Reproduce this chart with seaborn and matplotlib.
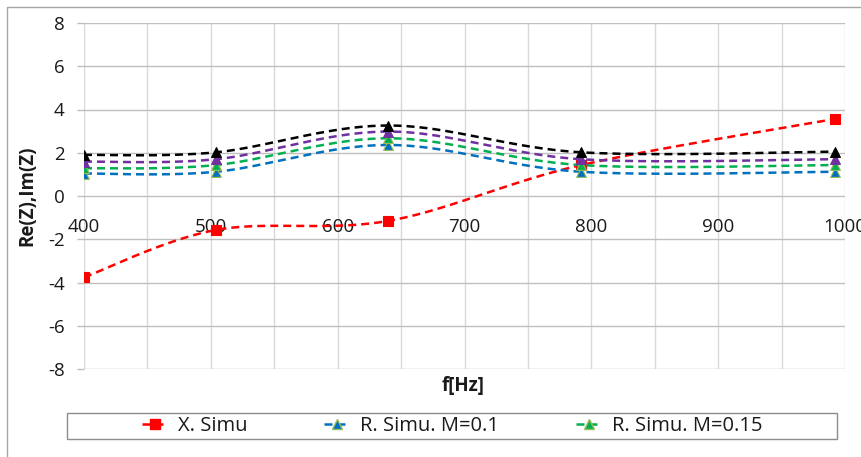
import numpy as np
import pandas as pd
import matplotlib
matplotlib.use("Agg")
import matplotlib.pyplot as plt
from matplotlib.lines import Line2D
from matplotlib.patches import Rectangle
import seaborn as sns

# ---- data ----
freq = [400, 504, 640, 792, 992]
x_simu = [-3.76, -1.57, -1.15, 1.43, 3.56]
r_m010 = [1.04, 1.12, 2.36, 1.12, 1.12]
r_m015 = [1.28, 1.43, 2.67, 1.43, 1.43]
r_m020 = [1.59, 1.70, 2.98, 1.70, 1.70]
r_m025 = [1.90, 2.02, 3.26, 2.02, 2.05]
series_names = ["X. Simu", "R. Simu. M=0.1", "R. Simu. M=0.15", "R. Simu. M=0.2", "R. Simu. M=0.25"]
x_ticks = [400, 500, 600, 700, 800, 900, 1000]
y_ticks = [-8, -6, -4, -2, 0, 2, 4, 6, 8]

series_values = [x_simu, r_m010, r_m015, r_m020, r_m025]
colors = ["#FF0000", "#0070C0", "#00B050", "#7030A0", "#000000"]
markers = ["s", "^", "^", "^", "^"]
edgecols = ["#FF0000", "#9BBB59", "#9BBB59", "#7030A0", "#000000"]


def excel_smooth(xs, ys, n=40):
    """Bezier smoothing similar to Excel's 'smoothed line'."""
    p = np.column_stack([xs, ys]).astype(float)
    m = len(p)
    out = []
    t = np.linspace(0, 1, n)[:, None]
    for i in range(m - 1):
        p0, p3 = p[i], p[i + 1]
        prev = p[i - 1] if i > 0 else p[i]
        nxt = p[i + 2] if i + 2 < m else p[i + 1]
        c1 = p0 + (p3 - prev) / 6.0
        c2 = p3 - (nxt - p0) / 6.0
        seg = ((1 - t) ** 3) * p0 + 3 * ((1 - t) ** 2) * t * c1 + 3 * (1 - t) * t ** 2 * c2 + t ** 3 * p3
        out.append(seg if i == 0 else seg[1:])
    arr = np.vstack(out)
    return arr[:, 0], arr[:, 1]


sns.set_style("white")
plt.rcParams["font.family"] = ["Open Sans", "DejaVu Sans"]

W, H = 862, 457
fig = plt.figure(figsize=(W / 100, H / 100), dpi=100)
ax = fig.add_axes([84 / W, 1 - 369 / H, (845 - 84) / W, (369 - 23) / H])

# outer chart border
fig.patches.append(Rectangle((7 / W, -0.05), 1.2, 1 - 7 / H + 0.05, transform=fig.transFigure,
                             fill=False, edgecolor="#A6A6A6", linewidth=1.0, zorder=0))

LW = 1.8
dash = (3.2, 2.0)
for i, (name, vals) in enumerate(zip(series_names, series_values)):
    sx, sy = excel_smooth(freq, vals)
    df_line = pd.DataFrame({"f": sx, "v": sy})
    sns.lineplot(data=df_line, x="f", y="v", sort=False, ax=ax, color=colors[i],
                 linewidth=LW, dashes=False, zorder=3 + i)
    ax.lines[-1].set_dashes(dash)
    df_pts = pd.DataFrame({"f": freq, "v": vals})
    sns.scatterplot(data=df_pts, x="f", y="v", ax=ax, marker=markers[i], s=50,
                    color=colors[i], edgecolor=edgecols[i], linewidth=0.8, zorder=3 + i)

ax.set_xlim(400, 1000)
ax.set_ylim(-8, 8)
ax.set_xticks(x_ticks)
ax.set_xticks(np.arange(400, 1001, 50), minor=True)
ax.set_yticks(y_ticks)
ax.set_yticklabels([str(v) for v in y_ticks])
ax.set_xticklabels([str(v) for v in x_ticks])

ax.xaxis.grid(True, which="both", color="#D9D9D9", linewidth=1.0, zorder=0)
ax.yaxis.grid(True, which="major", color="#BFBFBF", linewidth=1.0, zorder=0)
ax.set_axisbelow(True)

for s in ["top", "right", "left"]:
    ax.spines[s].set_visible(False)
ax.spines["bottom"].set_position(("data", 0))
ax.spines["bottom"].set_visible(False)

ax.tick_params(axis="x", which="both", length=0, pad=16, labelsize=13.5, labelcolor="#1A1A1A")
ax.tick_params(axis="y", which="major", length=5, width=1.0, color="#BFBFBF", pad=9,
               labelsize=13.5, labelcolor="#1A1A1A", left=True)

ax.set_xlabel("")
ax.set_ylabel("")
fig.text(463 / W, 1 - 386 / H, "f[Hz]", ha="center", va="center", fontsize=13.5,
         fontweight="bold", color="#1A1A1A")
fig.text(27 / W, 1 - 196 / H, "Re(Z),Im(Z)", ha="center", va="center", rotation=90,
         fontsize=13.5, fontweight="bold", color="#1A1A1A")

# legend box
fig.patches.append(Rectangle((67 / W, 1 - 439 / H), (837 - 67) / W, 26 / H, transform=fig.transFigure,
                             fill=False, edgecolor="#8C8C8C", linewidth=1.0))
handles = []
for i in range(3):
    h = Line2D([0], [0], color=colors[i], linewidth=LW, linestyle=(0, dash),
               marker=markers[i], markersize=6.5, markerfacecolor=colors[i], markeredgecolor=edgecols[i])
    handles.append(h)
fig.legend(handles, series_names[:3], loc="center", bbox_to_anchor=(452 / W, 1 - 426 / H),
           ncol=3, frameon=False, fontsize=14.5, handlelength=1.3, handletextpad=0.5,
           columnspacing=3.8, borderaxespad=0, labelcolor="#1A1A1A")

fig.savefig("out.png", dpi=100)
